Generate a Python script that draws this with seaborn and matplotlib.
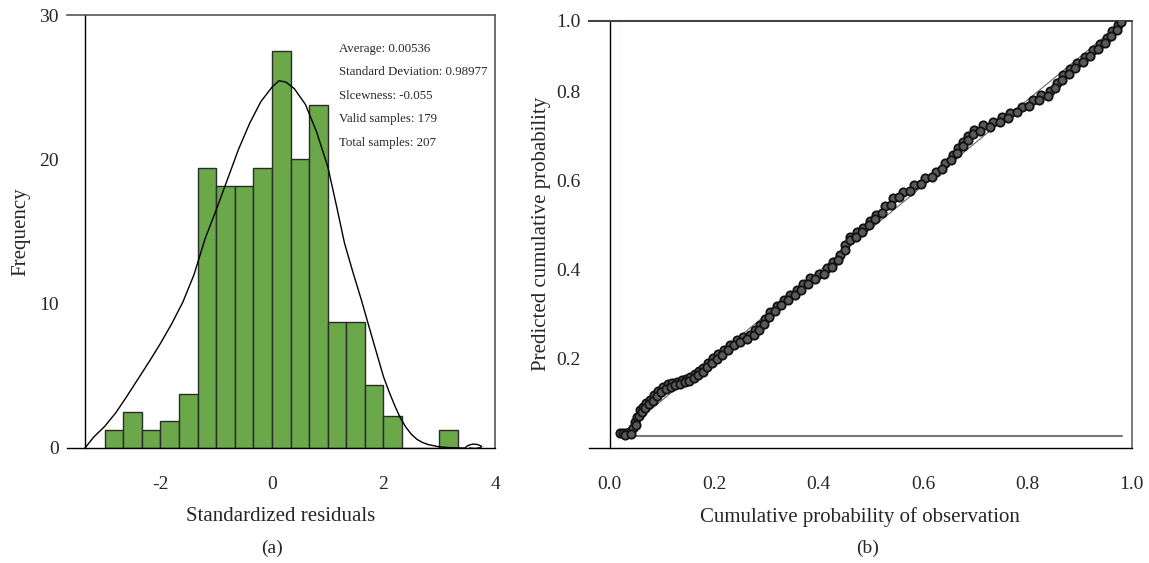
import numpy as np
import pandas as pd
import matplotlib
matplotlib.use('Agg')
import matplotlib.pyplot as plt
import seaborn as sns

# histogram of standardized residuals (bin width 1/3)
bin_edges = [-3.0, -2.667, -2.333, -2.0, -1.667, -1.333, -1.0, -0.667, -0.333, 0.0,
             0.333, 0.667, 1.0, 1.333, 1.667, 2.0, 2.333, 2.667, 3.0, 3.333]
bin_centers = [-2.833, -2.5, -2.167, -1.833, -1.5, -1.167, -0.833, -0.5, -0.167, 0.167,
               0.5, 0.833, 1.167, 1.5, 1.833, 2.167, 2.5, 2.833, 3.167]
freq = [1.25, 2.5, 1.25, 1.875, 3.75, 19.375, 18.125, 18.125, 19.375, 27.5,
        20.0, 23.75, 8.75, 8.75, 4.375, 2.25, 0.0, 0.0, 1.25]

# fitted curve
curve_x = [-3.354, -3.2, -3.0, -2.8, -2.6, -2.4, -2.2, -2.0, -1.8, -1.6,
           -1.4, -1.2, -1.0, -0.8, -0.6, -0.4, -0.2, 0.0, 0.125, 0.25,
           0.4, 0.6, 0.8, 1.0, 1.15, 1.3, 1.45, 1.6, 1.8, 2.0,
           2.1, 2.2, 2.3, 2.4, 2.5, 2.6, 2.7, 2.8, 3.0, 3.2,
           3.4, 3.46, 3.52, 3.6, 3.68, 3.76, 3.74, 3.64, 3.54]
curve_y = [0.0, 0.75, 1.5, 2.45, 3.6, 4.8, 6.0, 7.25, 8.6, 10.1,
           12.0, 14.5, 16.5, 18.6, 20.7, 22.5, 24.0, 25.0, 25.45, 25.35,
           24.9, 23.8, 21.9, 19.5, 16.9, 14.2, 12.2, 10.3, 7.6, 4.94,
           3.9, 2.95, 2.1, 1.45, 0.95, 0.6, 0.38, 0.24, 0.08, 0.02,
           0.0, 0.0, 0.18, 0.27, 0.25, 0.12, 0.02, -0.03, 0.0]

stats_lines = ['Average: 0.00536', 'Standard Deviation: 0.98977', 'Slcewness: -0.055',
               'Valid samples: 179', 'Total samples: 207']

# P-P plot points (observed cumulative prob, predicted cumulative prob), upper row of band
pp_obs = [0.020, 0.026, 0.032, 0.038, 0.044, 0.048, 0.052, 0.058, 0.064, 0.070,
          0.077, 0.085, 0.092, 0.103, 0.112, 0.120, 0.128, 0.138, 0.146, 0.154,
          0.163, 0.171, 0.179, 0.188, 0.198, 0.208, 0.218, 0.230, 0.243, 0.256,
          0.269, 0.279, 0.288, 0.297, 0.307, 0.320, 0.333, 0.345, 0.358, 0.371,
          0.384, 0.400, 0.416, 0.428, 0.441, 0.451, 0.460, 0.473, 0.486, 0.498,
          0.511, 0.527, 0.543, 0.562, 0.582, 0.604, 0.626, 0.642, 0.658, 0.667,
          0.677, 0.687, 0.697, 0.716, 0.735, 0.751, 0.767, 0.789, 0.811, 0.827,
          0.843, 0.856, 0.869, 0.882, 0.895, 0.910, 0.926, 0.939, 0.952, 0.963,
          0.974, 0.980]
pp_pred = [0.033, 0.033, 0.034, 0.036, 0.045, 0.058, 0.070, 0.085, 0.092, 0.100,
           0.108, 0.118, 0.128, 0.138, 0.143, 0.146, 0.149, 0.152, 0.156, 0.160,
           0.166, 0.172, 0.179, 0.190, 0.202, 0.211, 0.220, 0.232, 0.243, 0.249,
           0.254, 0.265, 0.276, 0.290, 0.306, 0.320, 0.333, 0.344, 0.355, 0.368,
           0.381, 0.392, 0.404, 0.418, 0.434, 0.455, 0.475, 0.485, 0.494, 0.509,
           0.524, 0.543, 0.561, 0.576, 0.591, 0.606, 0.621, 0.640, 0.658, 0.673,
           0.688, 0.702, 0.715, 0.725, 0.733, 0.743, 0.752, 0.767, 0.782, 0.792,
           0.801, 0.820, 0.838, 0.851, 0.864, 0.879, 0.894, 0.908, 0.921, 0.936,
           0.951, 0.958]
# lower row of band
pp_obs2 = [0.030, 0.040, 0.050, 0.056, 0.062, 0.068, 0.075, 0.082, 0.090, 0.098,
           0.108, 0.118, 0.126, 0.135, 0.144, 0.152, 0.161, 0.170, 0.178, 0.187,
           0.196, 0.206, 0.216, 0.226, 0.238, 0.250, 0.263, 0.276, 0.286, 0.295,
           0.305, 0.316, 0.329, 0.341, 0.354, 0.367, 0.380, 0.394, 0.410, 0.425,
           0.438, 0.450, 0.460, 0.471, 0.484, 0.497, 0.509, 0.522, 0.538, 0.555,
           0.575, 0.596, 0.618, 0.637, 0.654, 0.666, 0.676, 0.686, 0.696, 0.709,
           0.728, 0.747, 0.763, 0.781, 0.803, 0.822, 0.839, 0.853, 0.866, 0.879,
           0.892, 0.906, 0.921, 0.936, 0.949, 0.961, 0.972]
pp_pred2 = [0.030, 0.031, 0.052, 0.072, 0.082, 0.089, 0.098, 0.106, 0.117, 0.125,
            0.133, 0.138, 0.141, 0.144, 0.148, 0.151, 0.157, 0.163, 0.170, 0.181,
            0.192, 0.201, 0.210, 0.220, 0.231, 0.238, 0.244, 0.254, 0.266, 0.279,
            0.295, 0.308, 0.321, 0.332, 0.344, 0.356, 0.369, 0.380, 0.392, 0.407,
            0.422, 0.445, 0.467, 0.475, 0.485, 0.500, 0.514, 0.529, 0.547, 0.563,
            0.578, 0.593, 0.608, 0.626, 0.646, 0.663, 0.678, 0.693, 0.706, 0.713,
            0.722, 0.733, 0.742, 0.754, 0.769, 0.781, 0.791, 0.808, 0.826, 0.840,
            0.853, 0.867, 0.881, 0.897, 0.910, 0.925, 0.940]

sns.set_style('white')
plt.rcParams['font.family'] = ['Liberation Serif', 'DejaVu Serif']
plt.rcParams['axes.unicode_minus'] = False

W, H = 1149, 563
fig = plt.figure(figsize=(W / 100, H / 100), dpi=100)

# (a) histogram
ax1 = fig.add_axes([67 / W, 1 - 448 / H, 428 / W, 433 / H])
sns.histplot(x=bin_centers, weights=freq, bins=bin_edges, color='#6aa84a',
             edgecolor='#2b2b2b', linewidth=1.0, alpha=1, ax=ax1)
curve = pd.DataFrame({'x': curve_x, 'y': curve_y})
sns.lineplot(data=curve, x='x', y='y', sort=False, estimator=None, color='black',
             linewidth=1.0, ax=ax1)
ax1.set_xlim(-3.677, 4)
ax1.set_ylim(0, 30)
ax1.spines['left'].set_position(('data', -3.354))
ax1.set_xticks([-2, 0, 2, 4])
ax1.set_xticklabels(['-2', '0', '2', '4'])
ax1.set_yticks([0, 10, 20, 30])
ax1.tick_params(axis='y', direction='out', length=13, width=1.0, labelsize=14, pad=6)
ax1.tick_params(axis='x', direction='out', length=12.5, width=1.0, labelsize=14, pad=8)
for s in ['left', 'bottom']:
    ax1.spines[s].set_color('black')
    ax1.spines[s].set_linewidth(1.0)
for s in ['top', 'right']:
    ax1.spines[s].set_color('#555555')
    ax1.spines[s].set_linewidth(1.2)
ax1.set_xlabel('Standardized residuals', fontsize=15, labelpad=10)
ax1.set_ylabel('Frequency', fontsize=15, labelpad=6)
stat_y = [27.65, 26.08, 24.39, 22.8, 21.15]
for txt, yy in zip(stats_lines, stat_y):
    ax1.text(1.197, yy, txt, fontsize=9.3, va='center', ha='left')

# (b) P-P plot
ax2 = fig.add_axes([589 / W, 1 - 448 / H, 542.7 / W, 427.3 / H])
sns.lineplot(x=[0.02, 0.02], y=[0.0, 0.96], color='#e4e4e4', linewidth=1.5, ax=ax2)
sns.lineplot(x=[0.02, 0.981], y=[0.028, 0.028], color='#777777', linewidth=1.5, ax=ax2)
sns.lineplot(x=[0.02, 0.98], y=[0.03, 0.955], color='#666666', linewidth=0.8, ax=ax2)
pp = pd.DataFrame({'obs': pp_obs + pp_obs2, 'pred': pp_pred + pp_pred2})
sns.scatterplot(data=pp, x='obs', y='pred', marker='o', s=36, color='#5a5a5a',
                edgecolor='#111111', linewidth=1.3, ax=ax2, zorder=3)
ax2.set_xlim(-0.0397, 1.0)
ax2.set_ylim(0, 0.96)
ax2.spines['left'].set_position(('data', 0.0))
ax2.set_xticks([0, 0.2, 0.4, 0.6, 0.8, 1.0])
ax2.set_xticklabels(['0.0', '0.2', '0.4', '0.6', '0.8', '1.0'])
ax2.set_yticks([0.2, 0.4, 0.6, 0.8, 0.96])
ax2.set_yticklabels(['0.2', '0.4', '0.6', '0.8', '1.0'])
ax2.tick_params(axis='y', direction='out', length=15, width=1.0, labelsize=14, pad=6)
ax2.tick_params(axis='x', direction='out', length=12, width=1.0, labelsize=14, pad=8)
for s in ['left', 'bottom']:
    ax2.spines[s].set_color('black')
    ax2.spines[s].set_linewidth(1.0)
ax2.spines['top'].set_color('#444444')
ax2.spines['top'].set_linewidth(1.5)
ax2.spines['right'].set_color('#666666')
ax2.spines['right'].set_linewidth(1.2)
ax2.set_xlabel('Cumulative probability of observation', fontsize=15, labelpad=10)
ax2.set_ylabel('Predicted cumulative probability', fontsize=15, labelpad=4)

fig.text(272 / W, 1 - 548 / H, '(a)', fontsize=14, ha='center', va='center')
fig.text(868 / W, 1 - 548 / H, '(b)', fontsize=14, ha='center', va='center')

fig.savefig('out.png', dpi=100)
